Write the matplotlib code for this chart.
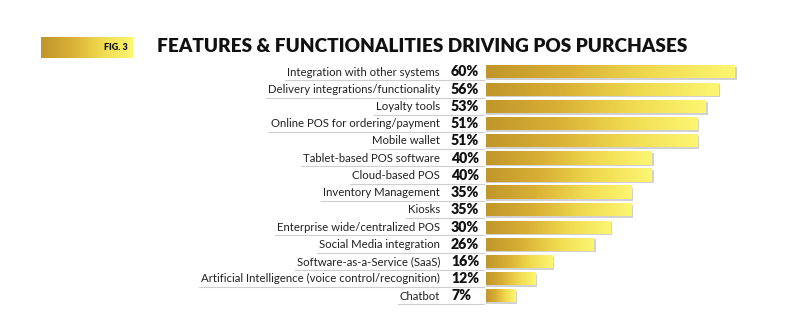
import matplotlib.pyplot as plt
import matplotlib.transforms as mtransforms
from matplotlib.colors import LinearSegmentedColormap
from matplotlib.lines import Line2D
import numpy as np

# data
features = ['Integration with other systems', 'Delivery integrations/functionality',
            'Loyalty tools', 'Online POS for ordering/payment', 'Mobile wallet',
            'Tablet-based POS software', 'Cloud-based POS', 'Inventory Management',
            'Kiosks', 'Enterprise wide/centralized POS', 'Social Media integration',
            'Software-as-a-Service (SaaS)', 'Artificial Intelligence (voice control/recognition)',
            'Chatbot']
percents = [60, 56, 53, 51, 51, 40, 40, 35, 35, 30, 26, 16, 12, 7]

title = 'FEATURES & FUNCTIONALITIES DRIVING POS PURCHASES'
fig_label = 'FIG. 3'

plt.rcParams['font.family'] = ['Lato', 'DejaVu Sans']

gold = LinearSegmentedColormap.from_list('gold', ['#c1962a', '#d9b035', '#f0db50', '#fdf672'])
grad = np.linspace(0, 1, 256).reshape(1, -1)

W, H = 800, 335
fig = plt.figure(figsize=(8, 3.35), dpi=100)


def px(x, y):
    # pixel (from top-left) -> figure fraction
    return x / W, 1 - y / H


# plotting area: value 0 at x=486px, rows from y=72 to y=296
left, top = px(486, 62)
right, bottom = px(786, 310)
ax = fig.add_axes([left, bottom, right - left, top - bottom])
scale = 4.15  # px per percent
ax.set_xlim(0, 300 / scale)
row_px = (296 - 72) / (len(features) - 1)
ax.set_ylim(13 + 14 / row_px, -10 / row_px)
ax.axis('off')

bar_h = 13 / row_px
for i, v in enumerate(percents):
    # soft shadow
    ax.barh(i + 1.6 / row_px, v + 0.4, height=bar_h, left=0, color='#9a9a9a', alpha=0.45,
            zorder=1)
    ax.imshow(grad, cmap=gold, aspect='auto', zorder=2,
              extent=(0, v, i + bar_h / 2, i - bar_h / 2))

trans = mtransforms.blended_transform_factory(fig.transFigure, ax.transData)
label_texts = []
for i, (name, v) in enumerate(zip(features, percents)):
    t = ax.text(440 / W, i, name, transform=trans, ha='right', va='center',
                fontsize=8.2, color='#222222', clip_on=False)
    label_texts.append(t)
    ax.text(451 / W, i, f'{v}%', transform=trans, ha='left', va='center',
            fontsize=10.2, fontweight='heavy', color='#111111', clip_on=False)

# title and fig badge
fig.text(157 / W, 1 - 46 / H, title, ha='left', va='center', fontsize=13.7,
         fontweight='heavy', color='#111111')
bx0, by0 = px(41, 58)
bx1, by1 = px(133, 37)
badge = fig.add_axes([bx0, by0, bx1 - bx0, by1 - by0])
badge.imshow(grad, cmap=gold, aspect='auto', extent=(0, 1, 0, 1))
badge.axis('off')
fig.text(128 / W, 1 - 47.5 / H, fig_label, ha='right', va='center', fontsize=6.5,
         fontweight='heavy', color='#111111')

# thin underline under each row, from label start to bar start
fig.canvas.draw()
renderer = fig.canvas.get_renderer()
for i, t in enumerate(label_texts):
    bb = t.get_window_extent(renderer)
    x0 = bb.x0 / W - 2 / W
    y = ax.transData.transform((0, i + 0.48))[1] / H
    fig.add_artist(Line2D([x0, 484 / W], [y, y], transform=fig.transFigure,
                          color='#cfcfcf', lw=0.8))

fig.savefig('out.png', dpi=100)
